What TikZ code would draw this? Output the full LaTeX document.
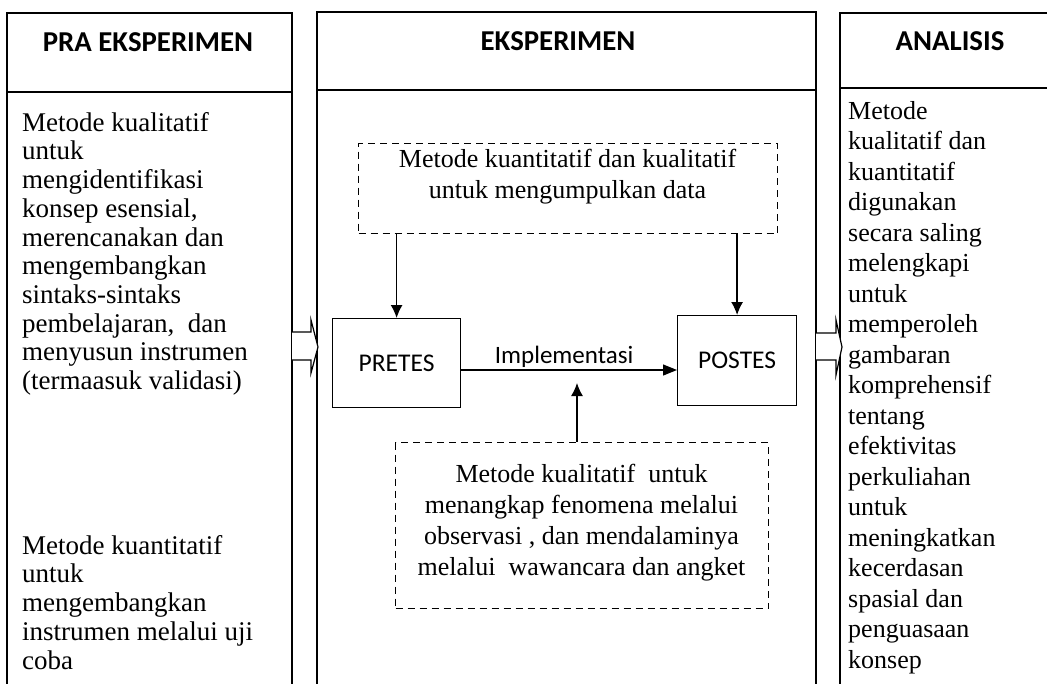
\documentclass[tikz,border=0pt]{standalone}
\usepackage{fontspec}
\setmainfont{Liberation Serif}
\newfontfamily\calibri{Carlito}
\usetikzlibrary{arrows.meta}
\tikzset{
	frame/.style={line width=1.2pt},
	headtxt/.style={font=\calibri\bfseries\fontsize{28.8}{32}\selectfont, inner sep=0pt},
	coltxt/.style={font=\fontsize{27}{28.7}\selectfont, align=left, anchor=north west, inner sep=0pt},
	bodytxt/.style={font=\fontsize{26}{31}\selectfont, align=center, anchor=north, inner sep=0pt},
	testbox/.style={draw, line width=1.2pt, anchor=north west, inner sep=0pt, font=\calibri\fontsize{25.5}{30}\selectfont},
	dashbox/.style={draw, dash pattern=on 7pt off 5pt, line width=1.1pt, anchor=north west, inner sep=0pt},
	blockarrow/.style={line width=1.2pt, fill=white},
	edge/.style={line width=1.3pt, -{Latex[length=13pt,width=12pt]}},
	impl/.style={line width=1.2pt, -{Triangle[length=14pt,width=11pt]}}
}

\begin{document}
\begin{tikzpicture}[x=1pt,y=-1pt]
	\useasboundingbox (0,0) rectangle (1047,683);
	\clip (0,0) rectangle (1047,683);
	
	% three columns
	\draw[frame] (7,13) rectangle (292,700);
	\draw[frame] (7,92) -- (292,92);
	\draw[frame] (317,12) rectangle (816,700);
	\draw[frame] (317,90) -- (816,90);
	\draw[frame] (840,13) rectangle (1080,700);
	\draw[frame] (840,88) -- (1080,88);
	
	\node[headtxt] (tpra) at (148,42.5) {PRA EKSPERIMEN};
	\node[headtxt] (teks) at (558,41) {EKSPERIMEN};
	\node[headtxt] (tana) at (950,41) {ANALISIS};
	
	% block arrows between columns
	\draw[blockarrow] (292,332) -- (311,332) -- (311,320) -- (318,347) -- (311,373) -- (311,360) -- (292,360);
	\draw[blockarrow] (816,333) -- (836,333) -- (836,320) -- (842,347) -- (836,375) -- (836,360) -- (816,360);
	
	% pra eksperimen
	\node[coltxt] (pra1) at (22,112) {Metode kualitatif\\untuk\\mengidentifikasi\\konsep esensial,\\merencanakan dan\\mengembangkan\\sintaks-sintaks\\pembelajaran,\ \ dan\\menyusun instrumen\\(termaasuk validasi)};
	\node[coltxt] (pra2) at (22,535) {Metode kuantitatif\\untuk\\mengembangkan\\instrumen melalui uji\\coba};
	
	% eksperimen
	\node[dashbox, minimum width=419pt, minimum height=90pt] (mkuan) at (358,143) {};
	\node[bodytxt] (mkuantxt) at (567.5,149) {Metode kuantitatif dan kualitatif\\untuk mengumpulkan data};
	
	\node[testbox, minimum width=128pt, minimum height=89pt] (pretes) at (332,318) {PRETES};
	\node[testbox, minimum width=119pt, minimum height=90pt] (postes) at (677,315) {POSTES};
	
	\node[dashbox, minimum width=373pt, minimum height=166pt] (mkual) at (395,442) {};
	\node[bodytxt] (mkualtxt) at (581.5,464) {Metode kualitatif\ \ untuk\\menangkap fenomena melalui\\observasi , dan mendalaminya\\melalui\ \ wawancara dan angket};
	
	\coordinate (implev) at (0,370);
	\coordinate (imptip) at (577,383);
	
	\draw[edge] (pretes.north |- mkuan.south) -- (pretes.north);
	\draw[edge] (postes.north |- mkuan.south) -- (postes.north);
	\draw[impl] (pretes.east |- implev) -- (postes.west |- implev)
		node[midway, above, xshift=-5pt, inner sep=2pt, font=\calibri\fontsize{25}{30}\selectfont] {Implementasi};
	\draw[edge] (imptip |- mkual.north) -- (imptip);
	
	% analisis
	\node[coltxt, font=\fontsize{26}{30.5}\selectfont] (ana) at (848,101) {Metode\\kualitatif dan\\kuantitatif\\digunakan\\secara saling\\melengkapi\\untuk\\memperoleh\\gambaran\\komprehensif\\tentang\\efektivitas\\perkuliahan\\untuk\\meningkatkan\\kecerdasan\\spasial dan\\penguasaan\\konsep};
\end{tikzpicture}
\end{document}
